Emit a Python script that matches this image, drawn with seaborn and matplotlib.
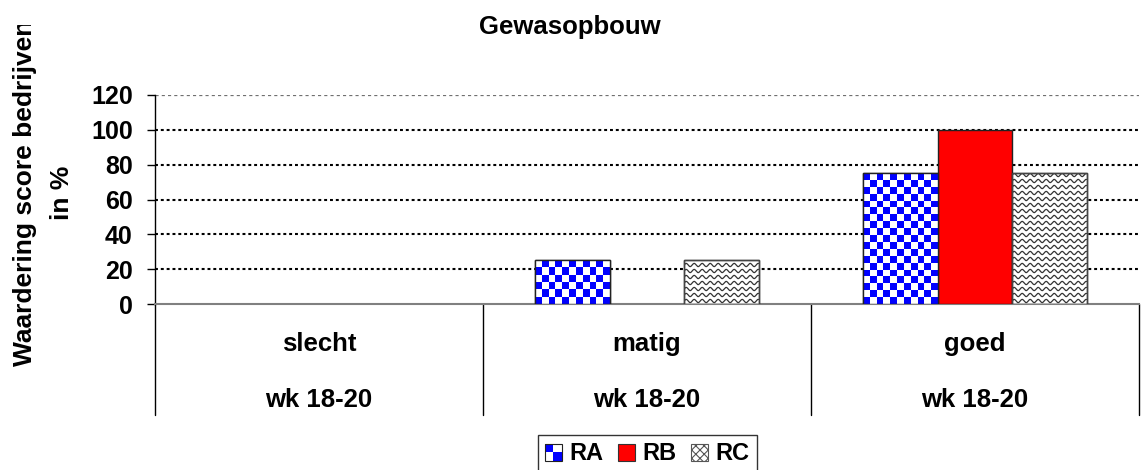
import numpy as np
import pandas as pd
import matplotlib
matplotlib.use("Agg")
import matplotlib.pyplot as plt
from matplotlib.patches import Patch, Rectangle
from matplotlib.legend_handler import HandlerBase
from matplotlib.transforms import Bbox
import seaborn as sns

categories = ["slecht", "matig", "goed"]
period_labels = ["wk 18-20", "wk 18-20", "wk 18-20"]
series = ["RA", "RB", "RC"]
RA = [0, 25, 75]
RB = [0, 0, 100]
RC = [0, 25, 75]
yticks = [0, 20, 40, 60, 80, 100, 120]

sns.set_theme(style="white")
plt.rcParams['font.family'] = ['Liberation Sans', 'DejaVu Sans']
plt.rcParams['font.weight'] = 'bold'
plt.rcParams['text.color'] = 'black'
plt.rcParams['ytick.color'] = 'black'
plt.rcParams['ytick.labelcolor'] = 'black'
plt.rcParams['hatch.linewidth'] = 0.8

df = pd.DataFrame({
    "cat": categories * 3,
    "series": sum([[s] * 3 for s in series], []),
    "val": RA + RB + RC,
})

fig = plt.figure(figsize=(11.41, 4.70), dpi=100)
ax = fig.add_axes([155/1141, 1-304/470, (1139-155)/1141, (304-95)/470])

palette = {"RA": "white", "RB": "#ff0000", "RC": "white"}
sns.barplot(data=df, x="cat", y="val", hue="series", order=categories,
            hue_order=series, palette=palette, width=0.68, saturation=1,
            edgecolor="#222222", linewidth=1.0, ax=ax, legend=False, zorder=3)

ax.set_xlim(-0.5, 2.5)
ax.set_ylim(0, 120)

ncat = len(categories)
patches = [p for p in ax.patches if isinstance(p, Rectangle)]
for p in patches:
    if p.get_height() <= 0:
        p.set_visible(False)
ra_patches = patches[0:ncat]
rc_patches = patches[2*ncat:3*ncat]
cell_x = 7/328
cell_y = 7/(209/120)
for p in ra_patches:
    h = p.get_height()
    if h <= 0:
        continue
    x0, w = p.get_x(), p.get_width()
    nx = max(1, int(round(w / cell_x)))
    ny = max(1, int(round(h / cell_y)))
    board = (np.add.outer(np.arange(ny), np.arange(nx)) % 2)
    im = ax.imshow(board, extent=(x0, x0 + w, 0, h), origin="lower",
                   cmap=matplotlib.colors.ListedColormap(["#0000ff", "white"]),
                   interpolation="nearest", aspect="auto", zorder=3.5)
    im.set_clip_path(p)
    ax.add_patch(Rectangle((x0, 0), w, h, fill=False, edgecolor="#222222", lw=1.0, zorder=4))

px_x = 1/328
px_y = 120/209
for p in rc_patches:
    h = p.get_height()
    if h <= 0:
        continue
    x0, w = p.get_x(), p.get_width()
    xs = np.linspace(x0, x0 + w, 200)
    level = 3 * px_y
    while level < h:
        ys = level + 1.6 * px_y * np.sin(2 * np.pi * (xs - x0) / (8 * px_x))
        ln, = ax.plot(xs, ys, color="#333333", lw=0.9, zorder=3.6)
        ln.set_clip_path(p)
        level += 6 * px_y
    ax.add_patch(Rectangle((x0, 0), w, h, fill=False, edgecolor="#444444", lw=1.0, zorder=4))

ax.set_xlim(-0.5, 2.5)
ax.set_ylim(0, 120)

# grid
for yv in yticks[1:-1]:
    ax.axhline(yv, color="black", lw=1.5, ls=(0, (1.4, 1.4)), zorder=1)
ax.axhline(yticks[-1], color="#707070", lw=0.9, ls=(0, (2.5, 2.5)), zorder=1)

ax.set_yticks(yticks)
ax.set_yticklabels([str(v) for v in yticks], fontsize=18, fontweight="bold")
ax.tick_params(axis="y", direction="out", length=6, width=1, color="black", pad=10, left=True)
ax.tick_params(axis="x", bottom=False, labelbottom=False)
ax.set_xlabel("")
ax.set_ylabel("")
for s in ["top", "right"]:
    ax.spines[s].set_visible(False)
ax.spines["left"].set_color("black")
ax.spines["left"].set_linewidth(1)
ax.spines["bottom"].set_color("#808080")
ax.spines["bottom"].set_linewidth(1.5)

trans = ax.get_xaxis_transform()
for b in np.arange(-0.5, ncat, 1.0):
    ax.plot([b, b], [0, -111/209], color="black", lw=1, transform=trans, clip_on=False)
for i, (c, wlab) in enumerate(zip(categories, period_labels)):
    ax.text(i, -40/209, c, transform=trans, ha="center", va="center", fontsize=18.5, fontweight="bold")
    ax.text(i, -96/209, wlab, transform=trans, ha="center", va="center", fontsize=18.5, fontweight="bold")

fig.text(570/1141, 1-27/470, "Gewasopbouw", ha="center", va="center", fontsize=18.5, fontweight="bold")

yl1 = fig.text(25/1141, 1-193/470, "Waardering score bedrijven", ha="center", va="center",
               rotation=90, fontsize=19, fontweight="bold")
yl1.set_clip_box(Bbox.from_extents(0, 0, 1141, 470 - 25))
yl1.set_clip_on(True)
fig.text(62/1141, 1-193/470, "in %", ha="center", va="center",
         rotation=90, fontsize=19, fontweight="bold")


class CheckerHandler(HandlerBase):
    def create_artists(self, legend, orig_handle, xdescent, ydescent, width, height, fontsize, trans):
        s = min(width, height)
        x0 = -xdescent + (width - s) / 2
        y0 = -ydescent + (height - s) / 2
        arts = []
        half = s / 2
        cols = [["white", "#0000ff"], ["#0000ff", "white"]]
        for i in range(2):
            for j in range(2):
                arts.append(Rectangle((x0 + j * half, y0 + i * half), half, half,
                                      facecolor=cols[i][j], edgecolor="none", transform=trans))
        arts.append(Rectangle((x0, y0), s, s, fill=False, edgecolor="#222222", lw=0.8, transform=trans))
        return arts


class SquareHandler(HandlerBase):
    def create_artists(self, legend, orig_handle, xdescent, ydescent, width, height, fontsize, trans):
        s = min(width, height)
        x0 = -xdescent + (width - s) / 2
        y0 = -ydescent + (height - s) / 2
        r = Rectangle((x0, y0), s, s, facecolor=orig_handle.get_facecolor(),
                      edgecolor=orig_handle.get_edgecolor(), hatch=orig_handle.get_hatch(),
                      lw=0.8, transform=trans)
        return [r]


class RAHandle:
    pass


handles = [RAHandle(),
           Patch(facecolor="#ff0000", edgecolor="#333333"),
           Patch(facecolor="white", edgecolor="#555555", hatch="xxxx")]
leg = fig.legend(handles, series, loc="center", bbox_to_anchor=(647/1141, 1-454/470),
                 ncol=3, frameon=True, fancybox=False, edgecolor="black",
                 prop={"size": 17, "weight": "bold"}, handlelength=0.75, handleheight=0.75,
                 handletextpad=0.3, columnspacing=0.6, borderpad=0.3, borderaxespad=0,
                 handler_map={RAHandle: CheckerHandler(), Patch: SquareHandler()})
leg.get_frame().set_linewidth(1)

fig.savefig("out.png", dpi=100)
